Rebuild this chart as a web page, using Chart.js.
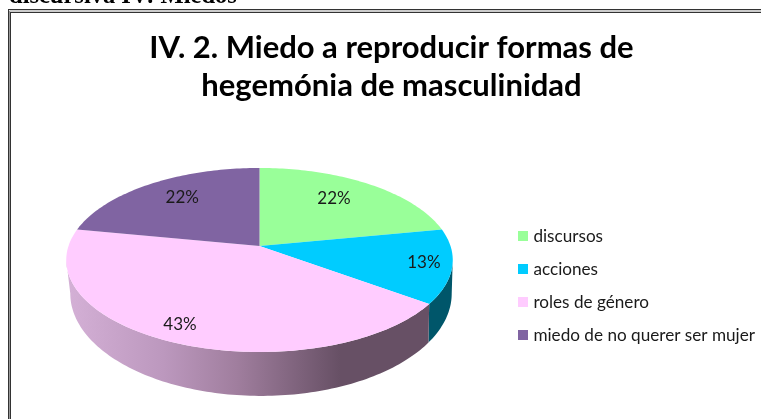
<!DOCTYPE html>
<html><head><meta charset="utf-8">
<style>html,body{margin:0;padding:0;background:#fff;overflow:hidden}canvas{display:block}</style>
<script src="https://cdn.jsdelivr.net/npm/chart.js@4"></script>
</head><body>
<canvas id="c" width="761" height="419"></canvas>
<script>
const categories = ["discursos", "acciones", "roles de género", "miedo de no querer ser mujer"];
const values = [22, 13, 43, 22];
const sliceColors = ["#99FF99", "#00CCFF", "#FFCCFF", "#8064A2"];
const titleLines = ["IV. 2. Miedo a reproducir formas de", "hegemónia de masculinidad"];
const captionText = "discursiva IV: Miedos";

const K = 0.152;
const TOP = {cx:259.5, apex:246, R:191, S:89.9}, LOW = {cx:261, apex:278, R:188.5, S:100};
const LABEL_POS = [[0.73,-4],[0.855,-1.6],[0.843,2.5],[0.74,3]]; // radial fraction, angle nudge (deg)
function proj(p, a){ // a: Chart.js angle (0 = east, clockwise)
  const u = Math.cos(a), v = -Math.sin(a), w = 1 + K*v;
  return [p.cx + p.R*u/w, p.apex - p.S*v/w];
}
function tracePath(ctx, p, a0, a1, first){
  const n = Math.max(2, Math.ceil(Math.abs(a1-a0)/0.02));
  for(let i=0;i<=n;i++){
    const q = proj(p, a0+(a1-a0)*i/n);
    if(i===0 && first) ctx.moveTo(q[0],q[1]); else ctx.lineTo(q[0],q[1]);
  }
}
function swatch(color){
  const s=document.createElement("canvas"); s.width=10; s.height=10;
  const x=s.getContext("2d"); x.fillStyle=color; x.fillRect(0,0,10,10);
  return s;
}
const pie3d = {
  id:"pie3d",
  beforeDraw(chart){
    const ctx = chart.ctx;
    ctx.save();
    ctx.fillStyle="#fff"; ctx.fillRect(0,0,761,419);
    ctx.fillStyle="#000"; ctx.font="bold 24.5px 'Liberation Serif'"; ctx.textBaseline="alphabetic"; ctx.textAlign="left";
    ctx.fillText(captionText,9,3);
    ctx.lineWidth=1;
    ctx.strokeStyle="#333"; ctx.strokeRect(8.5,9.5,780,430);
    ctx.strokeStyle="#333"; ctx.strokeRect(10.5,12.5,780,430);
    ctx.strokeStyle="#999"; ctx.beginPath(); ctx.moveTo(9.5,11); ctx.lineTo(761,11); ctx.moveTo(9.5,11); ctx.lineTo(9.5,419); ctx.stroke();
    ctx.restore();
  },
  beforeDatasetDraw(chart,args){
    const ctx = chart.ctx, arcs = args.meta.data;
    const wall = (c, a0, a1) => {
      ctx.beginPath();
      tracePath(ctx,TOP,a0,a1,true);
      tracePath(ctx,LOW,a1,a0,false);
      ctx.closePath(); ctx.fillStyle=c; ctx.fill();
    };
    // side wall, visible where the rim faces the viewer
    const lo = Math.asin(K), hi = Math.PI - Math.asin(K);
    const g = ctx.createLinearGradient(68,0,340,0);
    g.addColorStop(0,"#D4B0D6"); g.addColorStop(0.35,"#BC98BE"); g.addColorStop(0.62,"#A07E9E"); g.addColorStop(1,"#675065");
    arcs.forEach((arc,i)=>{
      const a0=Math.max(arc.startAngle,lo), a1=Math.min(arc.endAngle,hi);
      if(a1>a0) wall(i===2?g:(i===1?"#00566A":sliceColors[i]), a0, a1);
    });
    arcs.forEach((arc,i)=>{
      ctx.beginPath();
      ctx.moveTo(TOP.cx,TOP.apex);
      tracePath(ctx,TOP,arc.startAngle,arc.endAngle,false);
      ctx.closePath();
      ctx.fillStyle=sliceColors[i]; ctx.fill();
    });
    return false;
  },
  afterDatasetsDraw(chart){
    const ctx = chart.ctx, arcs = chart.getDatasetMeta(0).data;
    const total = values.reduce((a,b)=>a+b,0);
    ctx.save();
    ctx.fillStyle="#1a1a1a"; ctx.font="17px Lato"; ctx.textAlign="center"; ctx.textBaseline="middle";
    arcs.forEach((arc,i)=>{
      const mid=(arc.startAngle+arc.endAngle)/2 + LABEL_POS[i][1]*Math.PI/180, r=LABEL_POS[i][0];
      const u=Math.cos(mid)*r, v=-Math.sin(mid)*r, w=1+K*v;
      ctx.fillText(Math.round(values[i]/total*100)+"%", TOP.cx+TOP.R*u/w, TOP.apex-TOP.S*v/w+1);
    });
    ctx.restore();
  }
};
new Chart(document.getElementById("c"),{
  type:"pie",
  data:{labels:categories,datasets:[{data:values,backgroundColor:sliceColors,borderWidth:0}]},
  options:{
    responsive:false,animation:false,
    layout:{padding:{top:29,right:-4,left:18,bottom:59}},
    plugins:{
      title:{display:true,text:titleLines,color:"#000",font:{family:"Lato",weight:"bold",size:31,lineHeight:1.23},padding:0,align:"center"},
      legend:{position:"right",align:"end",labels:{usePointStyle:true,pointStyleWidth:4,boxHeight:10,padding:16,color:"#1a1a1a",font:{family:"Lato",size:17.15},
        generateLabels(chart){
          const items=Chart.overrides.doughnut.plugins.legend.labels.generateLabels(chart);
          items.forEach((it,i)=>{it.pointStyle=swatch(sliceColors[i]);});
          return items;
        }}},
      tooltip:{enabled:false}
    }
  },
  plugins:[pie3d]
});
</script>
</body></html>
